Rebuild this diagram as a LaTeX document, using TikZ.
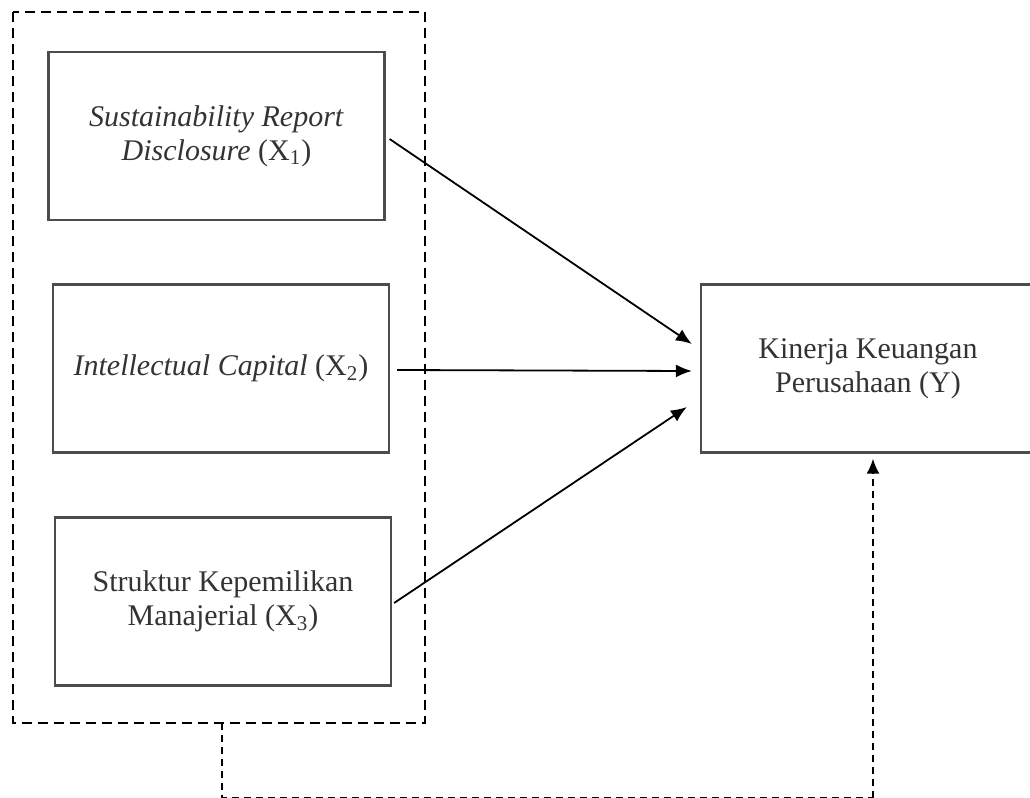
\documentclass[tikz,border=0pt]{standalone}
\usepackage{fontspec}
\setmainfont{Liberation Serif}
\usetikzlibrary{arrows.meta}

\begin{document}
\begin{tikzpicture}[x=0.5pt,y=-0.5pt]
	\tikzstyle{every node} = [font=\fontsize{15}{17}\selectfont, text=black!80]
	\tikzstyle{var} = [draw=black!70, line width=1.1pt, minimum width=168pt, minimum height=84pt, align=center, inner sep=0pt]
	\tikzstyle{path} = [line width=0.9pt, -{Latex[length=8pt,width=6.5pt]}]
	\tikzstyle{link} = [line width=1pt, dash pattern=on 3.5pt off 2.5pt]
	\useasboundingbox (0,0) rectangle (1030,798);
	\clip (0,0) rectangle (1030,798);
	% variables
	\node[var] (X1) at (216.5,136) {\textit{Sustainability Report}\\\textit{Disclosure} (X\textsubscript{1})};
	\node[var] (X2) at (221,368.5) {\textit{Intellectual Capital} (X\textsubscript{2})};
	\node[var] (X3) at (223,601.5) {Struktur Kepemilikan\\Manajerial (X\textsubscript{3})};
	\node[var, minimum width=167pt] (Y) at (868,368.5) {Kinerja Keuangan\\Perusahaan (Y)};
	% dashed group round X1--X3
	\draw[line width=1.1pt, dash pattern=on 5pt off 3pt] (13,12) rectangle (425,723);
	\coordinate (G) at (222,723);
	\coordinate (G1) at (222,797.5);
	\coordinate (G2) at (873,797.5);
	% arrows
	\draw[path] ([shift={(4,3)}]X1.east) -- ([shift={(-8,-24.5)}]Y.west);
	\draw[path] ([shift={(7,1.5)}]X2.east) -- ([shift={(-8,2.5)}]Y.west);
	\draw[path] ([shift={(2,1.5)}]X3.east) -- ([shift={(-13,38.5)}]Y.west);
	\draw[link] (G) -- (G1) -- (G2);
	\draw[link, -{Latex[length=7.5pt,width=6.5pt]}] (G2) -- ([yshift=-2.5pt]Y.south -| G2);
\end{tikzpicture}
\end{document}
